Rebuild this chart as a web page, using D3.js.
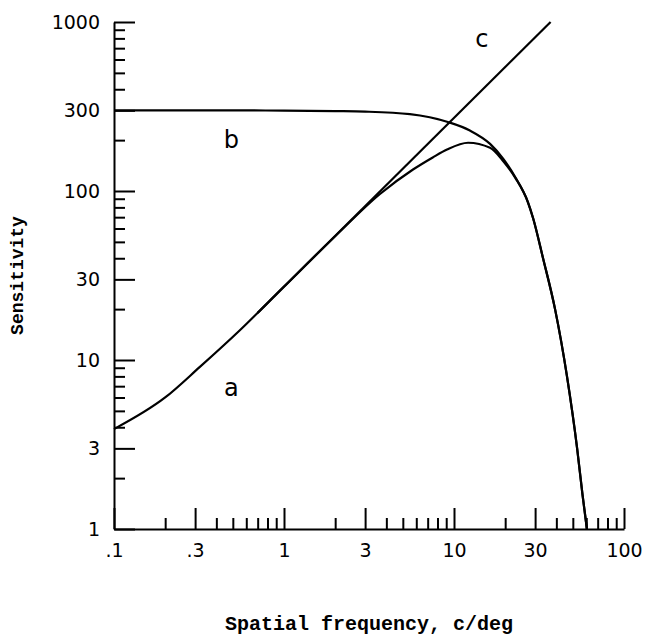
<!DOCTYPE html>
<html>
<head>
<meta charset="utf-8">
<script src="https://cdn.jsdelivr.net/npm/d3@7"></script>
<style>
  body { margin: 0; background: #fff; }
  .axis path, .axis line { stroke: #000; stroke-width: 2px; }
  .axis text { font-family: "DejaVu Sans", sans-serif; font-size: 19px; fill: #000; }
  .curve { fill: none; stroke: #000; stroke-width: 2.2px; }
  .curve-label { font-family: "DejaVu Sans", sans-serif; font-size: 24px; fill: #000; }
  .axis-title { font-family: "Liberation Mono", monospace; fill: #000; font-weight: bold; }
</style>
</head>
<body>
<div id="chart"></div>
<script>
// tick values and labels
const xMajorTicks = [0.1, 0.3, 1, 3, 10, 30, 100];
const xMajorLabels = [".1", ".3", "1", "3", "10", "30", "100"];
const xMinorTicks = [0.2, 0.4, 0.5, 0.6, 0.7, 0.8, 0.9, 2, 4, 5, 6, 7, 8, 9, 20, 40, 50, 60, 70, 80, 90];
const yMajorTicks = [1, 3, 10, 30, 100, 300, 1000];
const yMajorLabels = ["1", "3", "10", "30", "100", "300", "1000"];
const yMinorTicks = [2, 4, 5, 6, 7, 8, 9, 20, 40, 50, 60, 70, 80, 90, 200, 400, 500, 600, 700, 800, 900];

// curve a
const aFreq = [0.1, 0.2, 0.32, 0.55, 1, 2, 3.67, 5.74, 7.5, 9.1, 12.1, 16.3, 19.5, 22.9, 27.2, 29.2, 33.4, 39.3, 46.2, 53, 57, 60.5];
const aSens = [3.9, 6.0, 9.1, 15.0, 27.2, 54, 96, 134, 158, 176, 193, 180, 150, 120, 86, 69, 40, 20, 8, 3, 1.6, 1];

// curve b
const bFreq = [0.1, 0.5, 1, 2, 3, 5.5, 9.2, 12.4, 16.3, 19.5, 22.9, 27.2, 29.2, 33.4, 39.3, 46.2, 53, 57, 60.5];
const bSens = [300, 300, 299, 297, 295, 285, 256, 228, 190, 155, 121, 86, 69, 40, 20, 8, 3, 1.6, 1];

// curve c (straight line)
const cFreq = [0.7, 37];
const cSens = [19, 1000];

const curveLabels = ["a", "b", "c"];
const curveLabelFreq = [0.49, 0.49, 14.6];
const curveLabelSens = [6.1, 179, 715];

class SensitivityChart {

  constructor(_config) {
    this.config = {
      parentElement: _config.parentElement,
      containerWidth: 646,
      containerHeight: 636
    }
    this.config.margin = _config.margin || { top: 22, bottom: 107, right: 22, left: 114 };
    this.initVis();
  }

  initVis() {
    let vis = this;

    vis.config.width = vis.config.containerWidth - vis.config.margin.left - vis.config.margin.right;
    vis.config.height = vis.config.containerHeight - vis.config.margin.top - vis.config.margin.bottom;

    vis.svgContainer = d3.select(vis.config.parentElement).append("svg")
        .attr("width", vis.config.containerWidth)
        .attr("height", vis.config.containerHeight);

    vis.svg = vis.svgContainer.append("g")
        .attr("transform", "translate(" + vis.config.margin.left + "," + vis.config.margin.top + ")");

    vis.xScale = d3.scaleLog()
        .domain([0.1, 100])
        .range([0, vis.config.width]);

    vis.yScale = d3.scaleLog()
        .domain([1, 1000])
        .range([vis.config.height, 0]);

    vis.updateVis();
  }

  updateVis() {
    let vis = this;

    // axes: major ticks with labels, minor ticks without
    vis.svg.append("g")
        .attr("class", "axis axis--x")
        .attr("transform", "translate(0," + vis.config.height + ")")
        .call(d3.axisBottom(vis.xScale)
          .tickValues(xMajorTicks)
          .tickFormat((d, i) => xMajorLabels[i])
          .tickSizeInner(-21).tickSizeOuter(0).tickPadding(15));

    vis.svg.append("g")
        .attr("class", "axis axis--x-minor")
        .attr("transform", "translate(0," + vis.config.height + ")")
        .call(d3.axisBottom(vis.xScale)
          .tickValues(xMinorTicks)
          .tickFormat("")
          .tickSizeInner(-11).tickSizeOuter(0))
      .select(".domain").remove();

    vis.svg.append("g")
        .attr("class", "axis axis--y")
        .call(d3.axisLeft(vis.yScale)
          .tickValues(yMajorTicks)
          .tickFormat((d, i) => yMajorLabels[i])
          .tickSizeInner(-21).tickSizeOuter(0).tickPadding(14));

    vis.svg.append("g")
        .attr("class", "axis axis--y-minor")
        .call(d3.axisLeft(vis.yScale)
          .tickValues(yMinorTicks)
          .tickFormat("")
          .tickSizeInner(-11).tickSizeOuter(0))
      .select(".domain").remove();

    vis.svg.selectAll(".axis--x-minor, .axis--y-minor").classed("axis", true);

    // curves
    let line = d3.line()
        .x(d => vis.xScale(d[0]))
        .y(d => vis.yScale(d[1]))
        .curve(d3.curveMonotoneX);

    let series = [
      d3.zip(aFreq, aSens),
      d3.zip(bFreq, bSens),
      d3.zip(cFreq, cSens)
    ];

    vis.svg.selectAll(".curve")
        .data(series)
      .enter().append("path")
        .attr("class", "curve")
        .attr("d", line);

    vis.svg.selectAll(".curve-label")
        .data(curveLabels)
      .enter().append("text")
        .attr("class", "curve-label")
        .attr("x", (d, i) => vis.xScale(curveLabelFreq[i]))
        .attr("y", (d, i) => vis.yScale(curveLabelSens[i]))
        .attr("text-anchor", "middle")
        .text(d => d);

    // axis titles
    vis.svgContainer.append("text")
        .attr("class", "axis-title")
        .attr("x", 369)
        .attr("y", 630)
        .attr("text-anchor", "middle")
        .attr("font-size", 20)
        .text("Spatial frequency, c/deg");

    vis.svgContainer.append("text")
        .attr("class", "axis-title")
        .attr("transform", "translate(23," + (vis.config.margin.top + vis.config.height / 2) + ") rotate(-90)")
        .attr("text-anchor", "middle")
        .attr("font-size", 18)
        .text("Sensitivity");
  }
}

let chart = new SensitivityChart({ parentElement: "#chart" });
</script>
</body>
</html>
